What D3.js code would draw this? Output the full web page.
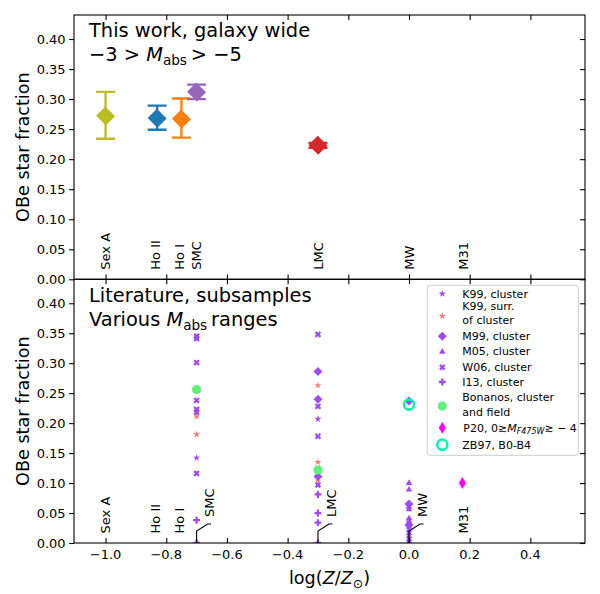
<!DOCTYPE html>
<html><head><meta charset="utf-8">
<script src="https://cdn.jsdelivr.net/npm/d3@7"></script>
<style>body{margin:0;background:#fff}svg{font-family:"DejaVu Sans",sans-serif}</style>
</head><body><svg id="c" width="600" height="594"></svg>
<script>
// ---------- data ----------
const galaxyNames = ["Sex A","Ho II","Ho I","SMC","LMC","MW","M31"];
const galaxyLogZ  = [-1.0,-0.837,-0.758,-0.70,-0.30,0.0,0.18];
const galaxyLeader = [false,false,false,true,true,true,false]; // bottom panel: label with leader line

// top panel: this work
const workX  = [-1.0,-0.83,-0.75,-0.70,-0.30];
const workY  = [0.272,0.268,0.267,0.312,0.223];
const workLo = [0.234,0.249,0.236,0.300,0.219];
const workHi = [0.312,0.289,0.301,0.324,0.227];
const workColors = ["#bcbd22","#1f77b4","#ff7f0e","#9467bd","#d62728"];

// bottom panel: literature
const k99X = [-0.70,-0.30];
const k99Y = [0.142,0.207];
const k99sX = [-0.70,-0.70,-0.30,-0.30,-0.30];
const k99sY = [0.211,0.181,0.263,0.135,0.104];
const m99X = [-0.30,-0.30,-0.30,0,0,0];
const m99Y = [0.286,0.240,0.111,0.237,0.065,0.030];
const m05X = [0,0,0,0,0,0,0,0,0,0,0,0,0];
const m05Y = [0.100,0.089,0.060,0.056,0.041,0.037,0.033,0.027,0.021,0.016,0.011,0.006,0.002];
const w06X = [-0.70,-0.70,-0.70,-0.70,-0.70,-0.70,-0.70,-0.30,-0.30,-0.30,-0.30];
const w06Y = [0.345,0.341,0.301,0.238,0.223,0.218,0.116,0.348,0.228,0.178,0.097];
const i13X = [-0.70,-0.70,-0.30,-0.30,-0.30,-0.30];
const i13Y = [0.038,0.0,0.081,0.050,0.034,0.0];
const bonX = [-0.70,-0.30];
const bonY = [0.256,0.122];
const p20X = [0.176];
const p20Y = [0.100];
const zb97X = [0.0];
const zb97Y = [0.231];

const xTicks = [-1.0,-0.8,-0.6,-0.4,-0.2,0.0,0.2,0.4];
const yTicks = [0,0.05,0.10,0.15,0.20,0.25,0.30,0.35,0.40];

// ---------- layout ----------
const svg = d3.select("#c");
const L=74, R=585, T1=15, B1=279.3, T2=279.3, B2=543;
const x = d3.scaleLinear().domain([-1.104,0.58]).range([L,R]);
const y1 = d3.scaleLinear().domain([0,0.44]).range([B1,T1]);
const y2 = d3.scaleLinear().domain([0,0.44]).range([B2,T2]);
const fmtY = d3.format(".2f");
const minus = s => s.replace("-","\u2212");
const PURPLE="#9d4af7", SALMON="#fb7b7b", GREEN="#5ef07a", CYAN="#00f5b2", MAG="#ff00ff";

const defs = svg.append("defs");
defs.append("clipPath").attr("id","cp1").append("rect").attr("x",L).attr("y",T1).attr("width",R-L).attr("height",B1-T1);
defs.append("clipPath").attr("id","cp2").append("rect").attr("x",L).attr("y",T2).attr("width",R-L).attr("height",B2-T2);

function axes(y, top, bot, showX){
  const g = svg.append("g");
  // left axis with labels (outward ticks)
  const ya = g.append("g").attr("transform",`translate(${L},0)`)
    .call(d3.axisLeft(y).tickValues(yTicks).tickFormat(fmtY).tickSize(4.9).tickPadding(3.5));
  ya.select(".domain").remove();
  ya.selectAll("text").attr("font-size",13).attr("font-family","DejaVu Sans").attr("fill","#000");
  ya.selectAll("line").attr("stroke","#000").attr("stroke-width",1.1);
  // right axis inward
  const yr = g.append("g").attr("transform",`translate(${R},0)`)
    .call(d3.axisLeft(y).tickValues(yTicks).tickFormat("").tickSize(4.9));
  yr.select(".domain").remove();
  yr.selectAll("line").attr("stroke","#000").attr("stroke-width",1.1);
  // top inward
  const xt = g.append("g").attr("transform",`translate(0,${top})`)
    .call(d3.axisBottom(x).tickValues(xTicks).tickFormat("").tickSize(4.9));
  xt.select(".domain").remove();
  xt.selectAll("line").attr("stroke","#000").attr("stroke-width",1.1);
  // bottom inward
  const xb = g.append("g").attr("transform",`translate(0,${bot})`)
    .call(d3.axisTop(x).tickValues(xTicks).tickFormat("").tickSize(4.9));
  xb.select(".domain").remove();
  xb.selectAll("line").attr("stroke","#000").attr("stroke-width",1.1);
  if(showX){
    g.selectAll(".xl").data(xTicks).enter().append("text")
      .attr("x",d=>x(d)).attr("y",bot+15.5).attr("text-anchor","middle")
      .attr("font-size",13).text(d=>minus(d.toFixed(1)));
  }
  g.append("rect").attr("x",L).attr("y",top).attr("width",R-L).attr("height",bot-top)
    .attr("fill","none").attr("stroke","#000").attr("stroke-width",1.1);
}

function sym(type,size){ return d3.symbol().type(type).size(size)(); }

// ---------- top panel ----------
const p1 = svg.append("g").attr("clip-path","url(#cp1)");
workX.forEach((xv,i)=>{
  const c = workColors[i], cx = x(xv);
  p1.append("line").attr("x1",cx).attr("x2",cx).attr("y1",y1(workLo[i])).attr("y2",y1(workHi[i]))
    .attr("stroke",c).attr("stroke-width",2.3);
  [workLo[i],workHi[i]].forEach(v=>p1.append("line").attr("x1",cx-9.5).attr("x2",cx+9.5)
    .attr("y1",y1(v)).attr("y2",y1(v)).attr("stroke",c).attr("stroke-width",2.3));
  p1.append("path").attr("d",sym(d3.symbolSquare,190))
    .attr("transform",`translate(${cx},${y1(workY[i])}) rotate(45) scale(1,0.95)`).attr("fill",c);
});
// galaxy labels top
galaxyNames.forEach((n,i)=>{
  svg.append("text").attr("transform",`translate(${x(galaxyLogZ[i])},${y1(0.016)}) rotate(-90)`)
    .attr("dy","0.36em").attr("font-size",13).text(n);
});

// ---------- bottom panel ----------
const p2 = svg.append("g").attr("clip-path","url(#cp2)");
function scatter(xs,ys,draw){ xs.forEach((xv,i)=>draw(p2,x(xv),y2(ys[i]))); }
const drawK99 = (g,cx,cy,c)=>g.append("path").attr("d",sym(d3.symbolStar,16)).attr("transform",`translate(${cx},${cy})`).attr("fill",c);
const drawM99 = (g,cx,cy)=>g.append("path").attr("d",sym(d3.symbolSquare,40)).attr("transform",`translate(${cx},${cy}) rotate(45)`).attr("fill",PURPLE);
const drawM05 = (g,cx,cy)=>g.append("path").attr("d",sym(d3.symbolTriangle,18)).attr("transform",`translate(${cx},${cy})`).attr("fill",PURPLE);
const drawW06 = (g,cx,cy)=>g.append("path").attr("d",sym(d3.symbolCross,26)).attr("transform",`translate(${cx},${cy}) rotate(45)`).attr("fill",PURPLE);
const drawI13 = (g,cx,cy)=>g.append("path").attr("d",sym(d3.symbolCross,26)).attr("transform",`translate(${cx},${cy})`).attr("fill",PURPLE);
const drawBon = (g,cx,cy)=>g.append("circle").attr("cx",cx).attr("cy",cy).attr("r",4.6).attr("fill",GREEN);
const drawP20 = (g,cx,cy)=>g.append("path").attr("d",sym(d3.symbolDiamond,42)).attr("transform",`translate(${cx},${cy})`).attr("fill",MAG);
const drawZB  = (g,cx,cy)=>g.append("circle").attr("cx",cx).attr("cy",cy).attr("r",5.1).attr("fill","none").attr("stroke",CYAN).attr("stroke-width",2.5);

scatter(k99X,k99Y,(g,a,b)=>drawK99(g,a,b,PURPLE));
scatter(k99sX,k99sY,(g,a,b)=>drawK99(g,a,b,SALMON));
scatter(m99X,m99Y,drawM99);
scatter(m05X,m05Y,drawM05);
scatter(w06X,w06Y,drawW06);
scatter(i13X,i13Y,drawI13);
scatter(bonX,bonY,drawBon);
scatter(p20X,p20Y,drawP20);
scatter(zb97X,zb97Y,drawZB);

// galaxy labels bottom
galaxyNames.forEach((n,i)=>{
  const gx = x(galaxyLogZ[i]);
  if(galaxyLeader[i]){
    svg.append("path").attr("d",`M${gx},${B2} L${gx},${B2-12} L${gx+11},${B2-19} L${gx+14.5},${B2-19}`)
      .attr("fill","none").attr("stroke","#000").attr("stroke-width",1.1);
    svg.append("text").attr("transform",`translate(${gx+13},${B2-26}) rotate(-90)`)
      .attr("dy","0.36em").attr("font-size",13).text(n);
  } else {
    svg.append("text").attr("transform",`translate(${gx},${y2(0.016)}) rotate(-90)`)
      .attr("dy","0.36em").attr("font-size",13).text(n);
  }
});

axes(y1,T1,B1,false);
axes(y2,T2,B2,true);

// ---------- texts ----------
function mabsLine(g,xp,yp,pre,post){
  const t = g.append("text").attr("x",xp).attr("y",yp).attr("font-size",19.4);
  t.append("tspan").text(pre);
  t.append("tspan").attr("font-style","italic").text("M");
  t.append("tspan").attr("font-size",13.6).attr("dy",4).text("abs");
  t.append("tspan").attr("dy",-4).text(post);
}
svg.append("text").attr("x",89).attr("y",37).attr("font-size",19.4).text("This work, galaxy wide");
mabsLine(svg,89,61,"\u22123 > ","\u2009> \u22125");
svg.append("text").attr("x",89).attr("y",302).attr("font-size",19.4).text("Literature, subsamples");
mabsLine(svg,89,326,"Various ","\u2009ranges");

// y labels
[[y1,T1,B1],[y2,T2,B2]].forEach(([yy,t,b])=>{
  svg.append("text").attr("transform",`translate(29,${(t+b)/2}) rotate(-90)`)
    .attr("text-anchor","middle").attr("font-size",17.6).text("OBe star fraction");
});
// x label
{
  const t = svg.append("text").attr("x",(L+R)/2).attr("y",584).attr("text-anchor","middle").attr("font-size",17.6);
  t.append("tspan").text("log(");
  t.append("tspan").attr("font-style","italic").text("Z");
  t.append("tspan").text("/");
  t.append("tspan").attr("font-style","italic").text("Z");
  t.append("tspan").attr("font-size",12.5).attr("dy",3.5).text("\u2299");
  t.append("tspan").attr("dy",-3.5).text(")");
}

// ---------- legend ----------
const lg = svg.append("g");
lg.append("rect").attr("x",427.3).attr("y",285.3).attr("width",151).attr("height",170).attr("rx",3)
  .attr("fill","#fff").attr("fill-opacity",0.8).attr("stroke","#cccccc").attr("stroke-width",1);
const LX=442.3, TX=462.3, FS=11;
function ltext(lines,yc){
  const n=lines.length, lh=14.3;
  lines.forEach((s,k)=>lg.append("text").attr("x",TX).attr("y",yc+(k-(n-1)/2)*lh+4).attr("font-size",FS).text(s));
}
drawK99(lg,LX,293.7,PURPLE); ltext(["K99, cluster"],293.7);
drawK99(lg,LX,316,SALMON); ltext(["K99, surr.","of cluster"],313.2);
drawM99(lg,LX,336.3); ltext(["M99, cluster"],336.3);
drawM05(lg,LX,351.8); ltext(["M05, cluster"],351.3);
drawW06(lg,LX,367.3); ltext(["W06, cluster"],367.3);
drawI13(lg,LX,382); ltext(["I13, cluster"],382);
drawBon(lg,LX,406); ltext(["Bonanos, cluster","and field"],404.5);
drawP20(lg,LX,427.7);
{
  const t = lg.append("text").attr("x",TX+1).attr("y",431.7).attr("font-size",FS);
  t.append("tspan").text("P20, 0\u2273");
  t.append("tspan").attr("font-style","italic").text("M");
  t.append("tspan").attr("font-style","italic").attr("font-size",8).attr("dy",2.5).text("F475W");
  t.append("tspan").attr("dy",-2.5).text("\u2273 \u2212 4");
}
drawZB(lg,LX,444.7); ltext(["ZB97, B0-B4"],444.7);
</script></body></html>
